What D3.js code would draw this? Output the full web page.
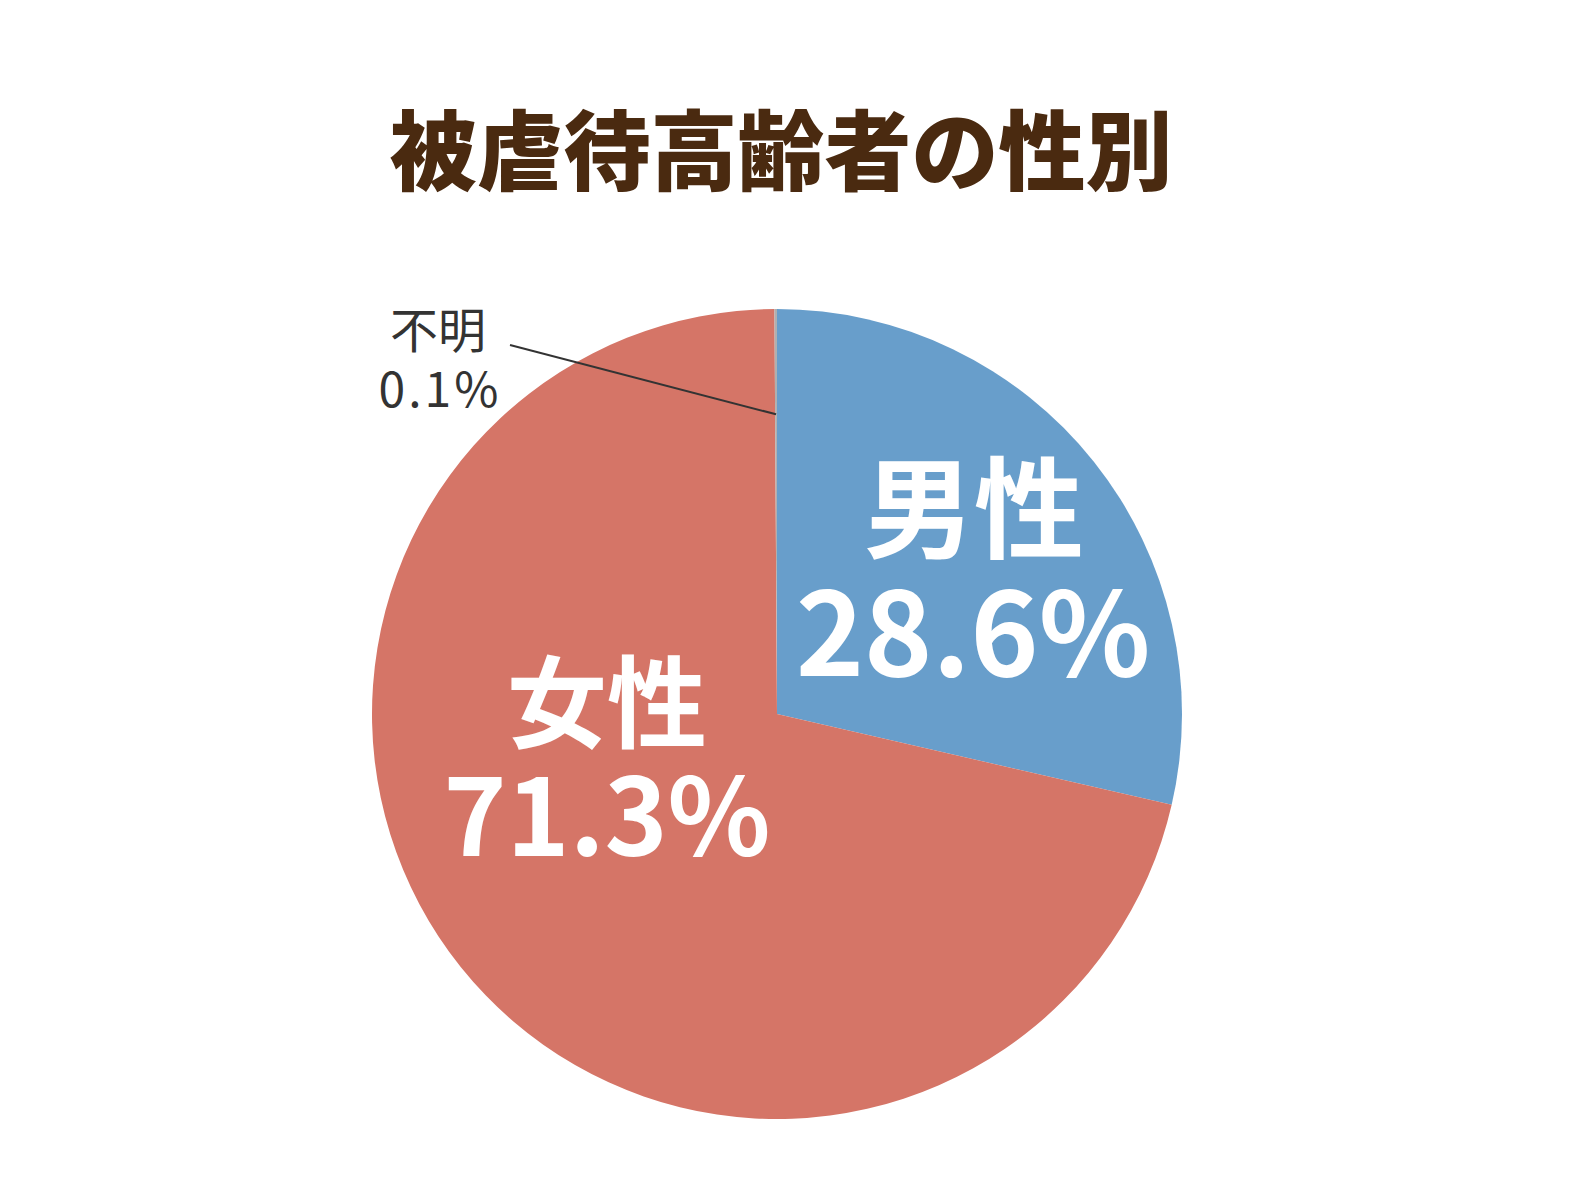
<!DOCTYPE html>
<html lang="ja">
<head>
<meta charset="UTF-8">
<title>被虐待高齢者の性別</title>
<style>
  body { margin: 0; background: #fff; }
  svg text { font-family: "Noto Sans CJK JP", "Noto Sans", sans-serif; }
</style>
</head>
<body>
<div id="chart"></div>
<script src="https://d3js.org/d3.v7.min.js"></script>
<script>
const categories = ["男性", "女性", "不明"];
const values = [28.6, 71.3, 0.1];
const colors = ["#689ecb", "#d57567", "#b0b0b0"];

const width = 1592, height = 1194;
const cx = 777, cy = 714, radius = 405;

const svg = d3.select("#chart").append("svg")
    .attr("width", width)
    .attr("height", height);

svg.append("text")
    .attr("x", 781).attr("y", 184)
    .attr("text-anchor", "middle")
    .style("font-size", "87px")
    .style("font-weight", "900")
    .style("fill", "#4a2a10")
    .text("被虐待高齢者の性別");

const data = categories.map((c, i) => ({ name: c, value: values[i], color: colors[i] }));
const pie = d3.pie().value(d => d.value).sort(null);
const arc = d3.arc().innerRadius(0).outerRadius(radius);

const g = svg.append("g").attr("transform", `translate(${cx},${cy})`);
const arcs = pie(data);

g.selectAll("path")
    .data(arcs)
    .enter()
    .append("path")
    .attr("d", arc)
    .attr("fill", d => d.data.color);

// inner labels for the big slices
const labelPos = [
    { name: [197, -164], pct: [196, -38], nameSize: 110, pctSize: 116 },
    { name: [-170, 26], pct: [-170, 142], nameSize: 100, pctSize: 107 }
];
arcs.slice(0, 2).forEach((d, i) => {
    const p = labelPos[i];
    g.append("text")
        .attr("x", p.name[0]).attr("y", p.name[1])
        .attr("text-anchor", "middle")
        .style("font-size", p.nameSize + "px").style("font-weight", "700")
        .style("fill", "#fff")
        .text(d.data.name);
    g.append("text")
        .attr("x", p.pct[0]).attr("y", p.pct[1])
        .attr("text-anchor", "middle")
        .style("font-size", p.pctSize + "px").style("font-weight", "700")
        .style("fill", "#fff")
        .text(d.data.value.toFixed(1) + "%");
});

// small slice: outside label with leader line
const small = arcs[2];
const inner = d3.arc().innerRadius(radius * 0.74).outerRadius(radius * 0.74).centroid(small);
g.append("line")
    .attr("x1", inner[0]).attr("y1", inner[1])
    .attr("x2", 510 - cx).attr("y2", 345 - cy)
    .attr("stroke", "#333").attr("stroke-width", 2);
svg.append("text")
    .attr("x", 438).attr("y", 348)
    .attr("text-anchor", "middle")
    .style("font-size", "48px").style("fill", "#333")
    .text(small.data.name);
svg.append("text")
    .attr("x", 440).attr("y", 407)
    .attr("text-anchor", "middle")
    .style("font-size", "48px").style("fill", "#333")
    .style("letter-spacing", "3px")
    .text(small.data.value.toFixed(1) + "%");
</script>
</body>
</html>
